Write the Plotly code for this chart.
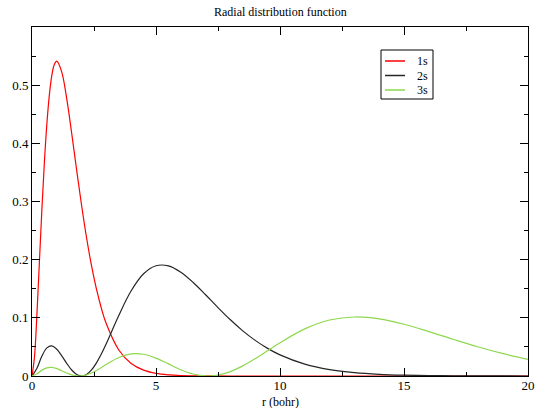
import plotly.graph_objects as go

# Data
r_1s = [0, 0.1, 0.2, 0.3, 0.4, 0.5, 0.6, 0.7, 0.8, 0.9, 1.0, 1.2, 1.4, 1.6, 1.8, 2.0,
        2.2, 2.4, 2.6, 2.8, 3.0, 3.5, 4.0, 4.5, 5.0, 5.5, 6.0, 7.0, 8.0, 10.0, 14.0, 20.0]
p_1s = [0, 0.03275, 0.10725, 0.19757, 0.28757, 0.36788, 0.43372, 0.48333, 0.51686, 0.53557,
        0.54134, 0.52254, 0.47675, 0.41740, 0.35412, 0.29305, 0.23768, 0.18961, 0.14917,
        0.11597, 0.08924, 0.04468, 0.02147, 0.01000, 0.00454, 0.00202, 0.000885, 0.000163,
        0.0000288, 0.0, 0.0, 0.0]

r_ns = [0, 0.2, 0.4, 0.6, 0.8, 1.0, 1.2, 1.4, 1.6, 1.8, 2.0, 2.2, 2.4, 2.6, 2.8, 3.0,
        3.5, 4.0, 4.5, 5.0, 5.5, 6.0, 6.5, 7.0, 7.5, 8.0, 8.5, 9.0, 9.5, 10, 11, 12, 13,
        14, 15, 16, 17, 18, 19, 20]
p_2s = [0, 0.013264, 0.03432, 0.048405, 0.051763, 0.045985, 0.034698, 0.02175, 0.010337,
        0.002678, 0.0, 0.002681, 0.010451, 0.022594, 0.03814, 0.05601, 0.10404, 0.14653,
        0.17575, 0.18951, 0.18931, 0.17847, 0.16078, 0.13963, 0.11764, 0.09661, 0.077639,
        0.06123, 0.047499, 0.03632, 0.02046, 0.01106, 0.005778, 0.002934, 0.001454,
        0.000706, 0.000337, 0.000158, 0.000073, 0.0000334]
p_3s = [0, 0.003922, 0.010082, 0.01404, 0.0147, 0.012625, 0.009015, 0.005125, 0.001974,
        0.000231, 0.000214, 0.001935, 0.005176, 0.009572, 0.01468, 0.02005, 0.031926,
        0.038181, 0.03734, 0.03063, 0.020781, 0.010854, 0.003409, 0.0000936, 0.00156,
        0.007598, 0.017387, 0.029745, 0.04343, 0.05713, 0.08095, 0.096215, 0.101474,
        0.09823, 0.08895, 0.076398, 0.062836, 0.049842, 0.038336, 0.028712]

series_names = ["1s", "2s", "3s"]
series_colors = ["#ff0000", "#262626", "#8ed84e"]
series_x = [r_1s, r_ns, r_ns]
series_y = [p_1s, p_2s, p_3s]

font = "Liberation Serif"

fig = go.Figure()
for name, xs, ys, col in zip(series_names, series_x, series_y, series_colors):
    fig.add_trace(go.Scatter(x=xs, y=ys, mode="lines", name=name, showlegend=False,
                             line=dict(color=col, width=1.2, shape="spline", smoothing=1.0)))

# Legend drawn in paper coordinates (box + samples + labels)
L, R, T, B = 381, 433, 50, 99  # pixel box
ml, mt = 32, 27
pw, ph = 496, 349
def px(x): return (x - ml) / pw
def py(y): return 1 - (y - mt) / ph

shapes = [dict(type="rect", xref="paper", yref="paper", x0=px(L), x1=px(R), y0=py(B), y1=py(T),
               line=dict(color="black", width=1), fillcolor="white", layer="above")]
annotations = []
for i, (name, col) in enumerate(zip(series_names, series_colors)):
    yy = 61 + 14.5 * i
    shapes.append(dict(type="line", xref="paper", yref="paper", x0=px(385), x1=px(405),
                       y0=py(yy), y1=py(yy), line=dict(color=col, width=1.5), layer="above"))
    annotations.append(dict(text=name, xref="paper", yref="paper", x=px(429), y=py(yy),
                            xanchor="right", yanchor="middle", showarrow=False,
                            height=14, borderpad=0, valign="middle",
                            font=dict(family=font, size=12, color="black")))

annotations.append(dict(text="Radial distribution function", xref="paper", yref="paper",
                        x=0.5, y=py(12), xanchor="center", yanchor="middle", showarrow=False,
                        font=dict(family=font, size=12, color="black")))
annotations.append(dict(text="r (bohr)", xref="paper", yref="paper",
                        x=0.5, y=py(402), xanchor="center", yanchor="middle", showarrow=False,
                        height=12, borderpad=0,
                        font=dict(family=font, size=12, color="black")))

fig.update_layout(
    width=538, height=408,
    margin=dict(l=32, r=10, t=27, b=32, autoexpand=False),
    paper_bgcolor="white", plot_bgcolor="white",
    font=dict(family=font, size=13, color="black"),
    shapes=shapes, annotations=annotations,
    showlegend=False,
)
fig.update_xaxes(range=[0, 20], dtick=5, tick0=0, showgrid=False, zeroline=False,
                 showline=True, linecolor="black", linewidth=1, mirror="ticks",
                 ticks="inside", ticklen=8, tickcolor="black", automargin=False,
                 ticklabelstandoff=-3,
                 minor=dict(ticks="inside", dtick=2.5, ticklen=4, tickcolor="black", showgrid=False),
                 tickfont=dict(family=font, size=13))
fig.update_yaxes(range=[0, 0.6], showgrid=False, zeroline=False,
                 showline=True, linecolor="black", linewidth=1, mirror="ticks",
                 ticks="inside", ticklen=8, tickcolor="black", automargin=False,
                 minor=dict(ticks="inside", dtick=0.05, ticklen=4, tickcolor="black", showgrid=False),
                 tickfont=dict(family=font, size=13), tickvals=[0, 0.1, 0.2, 0.3, 0.4, 0.5],
                 ticktext=["0", "0.1", "0.2", "0.3", "0.4", "0.5"])

fig.write_html("out.html")
